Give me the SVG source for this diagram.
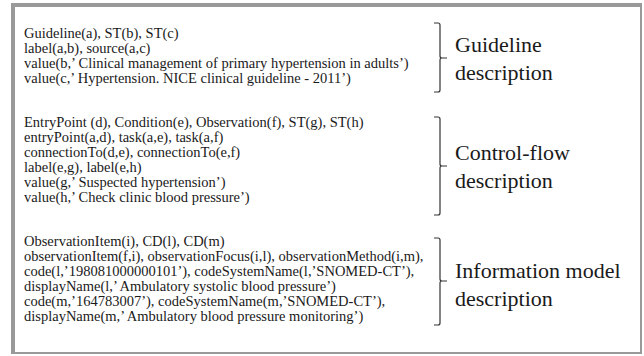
<svg xmlns="http://www.w3.org/2000/svg" width="644" height="356" viewBox="0 0 644 356">
<style>
text{font-family:"Liberation Serif","Times New Roman","DejaVu Serif",serif;fill:#1a1a1a;}
.t{font-size:14.5px;}
.lab{font-size:22px;}
.br{fill:none;stroke:#333;stroke-width:1.2;}
</style>
<rect x="0" y="0" width="644" height="356" fill="#fff"/>
<path d="M11,3 H642 V354 H11 Z M15,7 V352 H640 V7 Z" fill="#999" fill-rule="evenodd"/>
<g id="guideline">
<text class="t" x="24" y="37.5">Guideline(a), ST(b), ST(c)</text>
<text class="t" x="24" y="52.5">label(a,b), source(a,c)</text>
<text class="t" x="24" y="67.5">value(b,’ Clinical management of primary hypertension in adults’)</text>
<text class="t" x="24" y="82.5">value(c,’ Hypertension. NICE clinical guideline - 2011’)</text>
<text class="lab" x="455" y="52">Guideline</text>
<text class="lab" x="455" y="80">description</text>
</g>
<g id="controlflow">
<text class="t" x="24" y="126.5">EntryPoint (d), Condition(e), Observation(f), ST(g), ST(h)</text>
<text class="t" x="24" y="141.5">entryPoint(a,d), task(a,e), task(a,f)</text>
<text class="t" x="24" y="156.5">connectionTo(d,e), connectionTo(e,f)</text>
<text class="t" x="24" y="171.5">label(e,g), label(e,h)</text>
<text class="t" x="24" y="186.5">value(g,’ Suspected hypertension’)</text>
<text class="t" x="24" y="201.5">value(h,’ Check clinic blood pressure’)</text>
<text class="lab" x="455" y="160">Control-flow</text>
<text class="lab" x="455" y="188">description</text>
</g>
<g id="infomodel">
<text class="t" x="24" y="246">ObservationItem(i), CD(l), CD(m)</text>
<text class="t" x="24" y="261">observationItem(f,i), observationFocus(i,l), observationMethod(i,m),</text>
<text class="t" x="24" y="276">code(l,’198081000000101’), codeSystemName(l,’SNOMED-CT’),</text>
<text class="t" x="24" y="291">displayName(l,’ Ambulatory systolic blood pressure’)</text>
<text class="t" x="24" y="306">code(m,’164783007’), codeSystemName(m,’SNOMED-CT’),</text>
<text class="t" x="24" y="321">displayName(m,’ Ambulatory blood pressure monitoring’)</text>
<text class="lab" x="455" y="278">Information model</text>
<text class="lab" x="455" y="306">description</text>
</g>
<g id="connectors">
<path class="br" d="M434,23 H438 Q440,23 440,25 V56 Q440,58 442,58 H447 M442,58 Q440,58 440,60 V90 Q440,92 438,92 H434"/>
<path class="br" d="M434,117 H438 Q440,117 440,119 V164 Q440,166 442,166 H447 M442,166 Q440,166 440,168 V213 Q440,215 438,215 H434"/>
<path class="br" d="M434,238 H438 Q440,238 440,240 V279 Q440,281 442,281 H447 M442,281 Q440,281 440,283 V323 Q440,325 438,325 H434"/>
</g>
</svg>
